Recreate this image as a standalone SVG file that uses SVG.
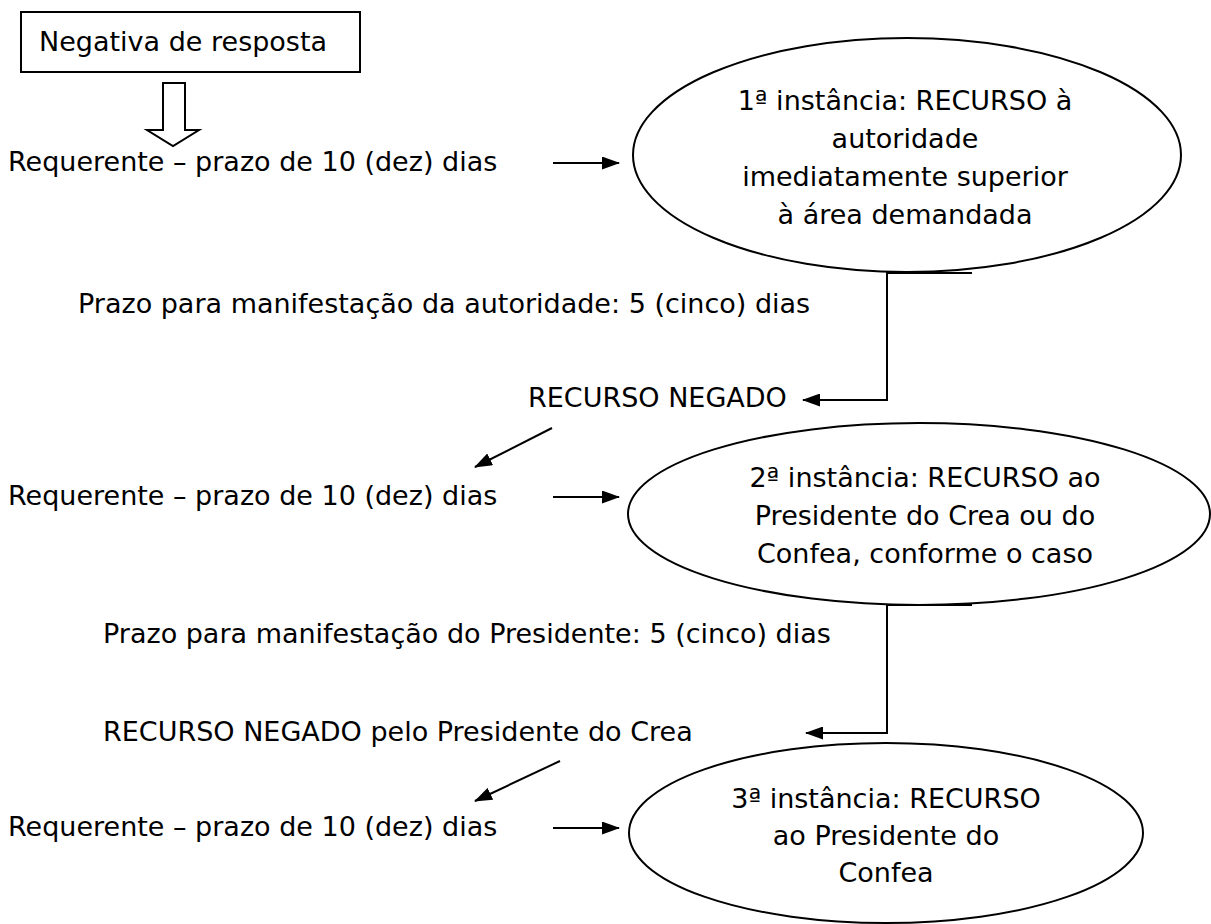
<svg xmlns="http://www.w3.org/2000/svg" width="1211" height="924" viewBox="0 0 1211 924">
<style>
text{font-family:"DejaVu Sans","Liberation Sans",sans-serif;font-size:27px;fill:#000}
.c{text-anchor:middle}
.s{fill:none;stroke:#000;stroke-width:2}
.l{fill:none;stroke:#000;stroke-width:2}
</style>
<defs>
<marker id="ah" viewBox="0 0 18 13" refX="17" refY="6.5" markerWidth="18" markerHeight="13" markerUnits="userSpaceOnUse" orient="auto">
<path d="M0,0 L18,6.5 L0,13 Z" fill="#000"/>
</marker>
</defs>
<rect width="1211" height="924" fill="#fff"/>
<g id="negativa">
<rect class="s" x="21" y="12" width="339" height="60"/>
<text x="39" y="51">Negativa de resposta</text>
</g>
<g id="req1"><text x="8" y="171">Requerente – prazo de 10 (dez) dias</text></g>
<g id="inst1">
<ellipse class="s" cx="907" cy="155" rx="274" ry="117"/>
<text class="c" x="905" y="110">1ª instância: RECURSO à</text>
<text class="c" x="905" y="148">autoridade</text>
<text class="c" x="905" y="186">imediatamente superior</text>
<text class="c" x="905" y="224">à área demandada</text>
</g>
<g id="prazo1"><text x="78" y="313">Prazo para manifestação da autoridade: 5 (cinco) dias</text></g>
<g id="negado1"><text x="528" y="407">RECURSO NEGADO</text></g>
<g id="req2"><text x="8" y="505">Requerente – prazo de 10 (dez) dias</text></g>
<g id="inst2">
<ellipse class="s" cx="919" cy="514" rx="291" ry="91"/>
<text class="c" x="925" y="487">2ª instância: RECURSO ao</text>
<text class="c" x="925" y="525">Presidente do Crea ou do</text>
<text class="c" x="925" y="563">Confea, conforme o caso</text>
</g>
<g id="prazo2"><text x="103" y="643">Prazo para manifestação do Presidente: 5 (cinco) dias</text></g>
<g id="negado2"><text x="103" y="741">RECURSO NEGADO pelo Presidente do Crea</text></g>
<g id="req3"><text x="8" y="836">Requerente – prazo de 10 (dez) dias</text></g>
<g id="inst3">
<ellipse class="s" cx="886" cy="833" rx="257" ry="90"/>
<text class="c" x="886" y="808">3ª instância: RECURSO</text>
<text class="c" x="886" y="845">ao Presidente do</text>
<text class="c" x="886" y="882">Confea</text>
</g>
<g id="connectors">
<path class="l" d="M163,83 V130 H147 L173,146 L199,130 H185 V83 Z" fill="#fff"/>
<line class="l" x1="553" y1="163" x2="619" y2="163" marker-end="url(#ah)"/>
<polyline class="l" points="972,273 887,273 887,400 803,400" marker-end="url(#ah)"/>
<line class="l" x1="552" y1="428" x2="475" y2="467" marker-end="url(#ah)"/>
<line class="l" x1="553" y1="497" x2="619" y2="497" marker-end="url(#ah)"/>
<polyline class="l" points="972,605 887,605 887,733 806,733" marker-end="url(#ah)"/>
<line class="l" x1="560" y1="761" x2="475" y2="801" marker-end="url(#ah)"/>
<line class="l" x1="553" y1="828" x2="619" y2="828" marker-end="url(#ah)"/>
</g>
</svg>
